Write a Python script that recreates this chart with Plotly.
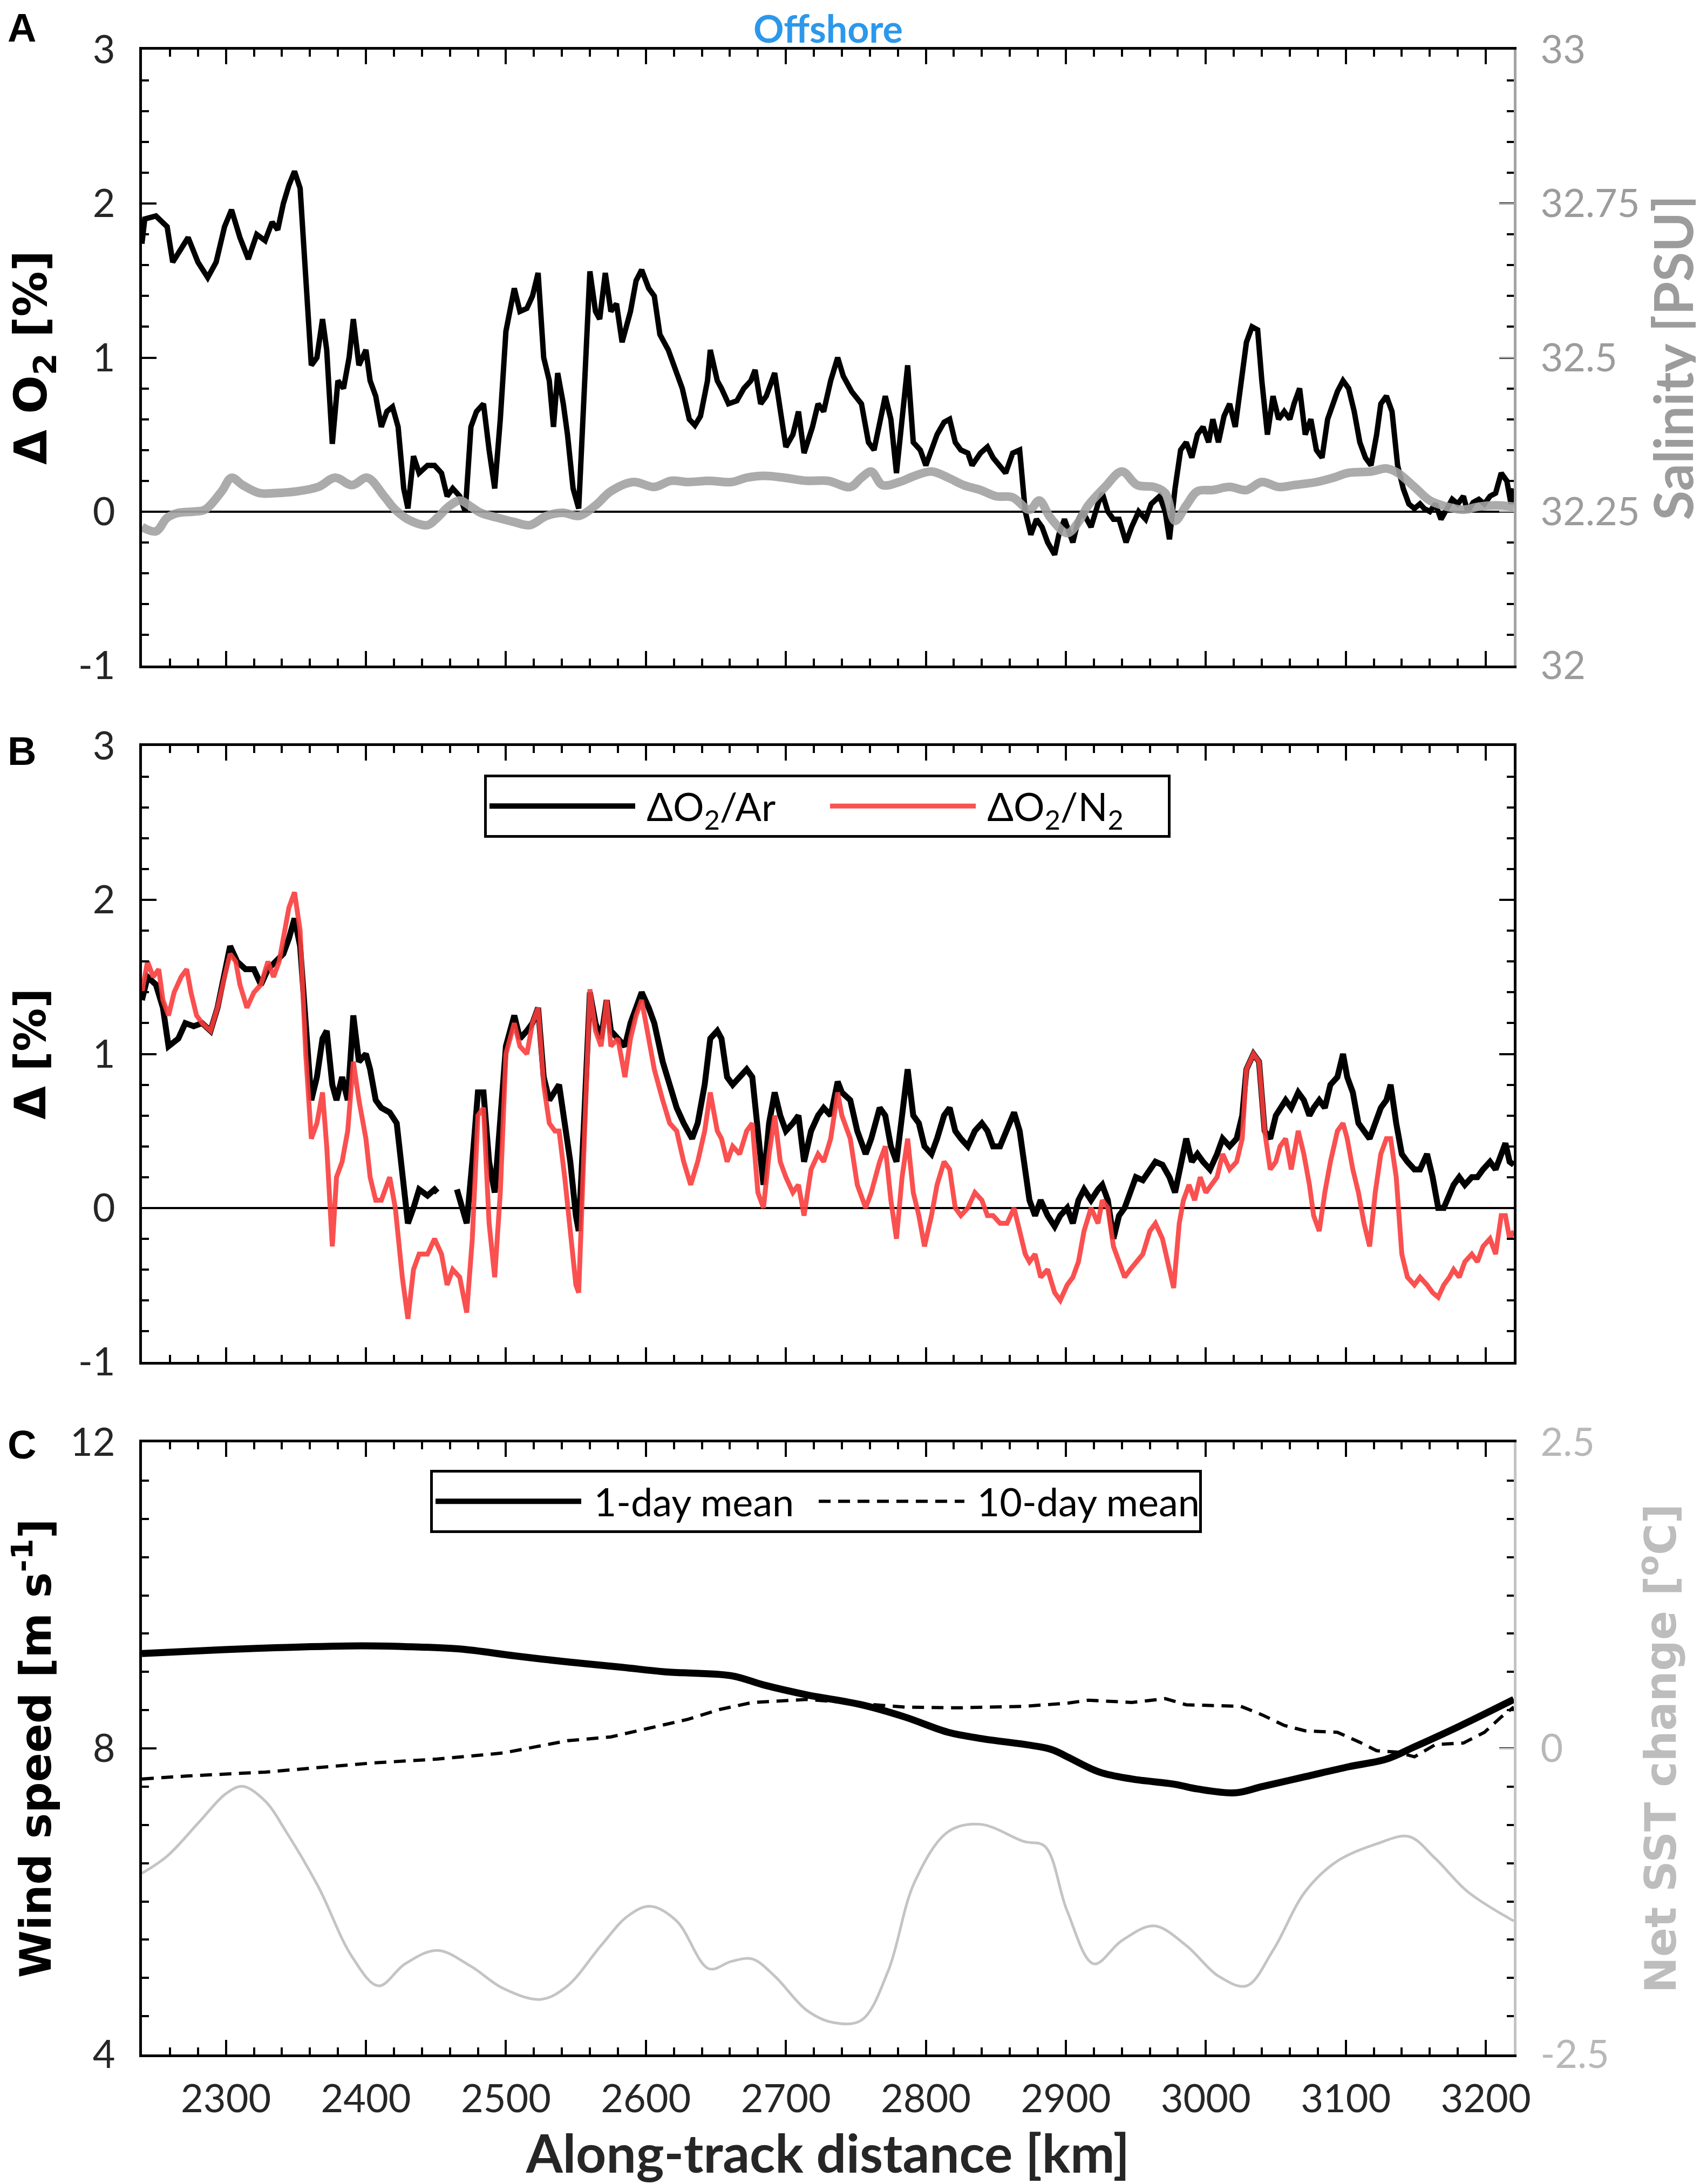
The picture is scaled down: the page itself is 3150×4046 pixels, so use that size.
import plotly.graph_objects as go

# ---------------- Panel A: ΔO2 and salinity ----------------
km_a = [2240, 2242, 2250, 2258, 2262, 2269, 2273, 2280, 2287, 2293, 2299, 2304, 2310, 2316, 2322, 2328, 2333, 2337,
        2341, 2345, 2349, 2353, 2357, 2361, 2365, 2369, 2372, 2376, 2380, 2384, 2388, 2391, 2395, 2400, 2403, 2407,
        2411, 2415, 2419, 2423, 2427, 2430, 2434, 2438, 2444, 2449, 2454, 2458, 2462, 2467, 2471, 2475, 2479, 2484,
        2488, 2492, 2496, 2500, 2506, 2510, 2515, 2519, 2523, 2527, 2531, 2534, 2537, 2541, 2544, 2548, 2552, 2556,
        2560, 2564, 2567, 2571, 2575, 2579, 2583, 2589, 2593, 2597, 2602, 2606, 2610, 2616, 2620, 2626, 2631, 2635,
        2639, 2644, 2646, 2651, 2654, 2659, 2665, 2670, 2675, 2678, 2682, 2686, 2692, 2696, 2700, 2705, 2709, 2713,
        2719, 2723, 2727, 2732, 2737, 2741, 2747, 2754, 2759, 2763, 2768, 2771, 2775, 2779, 2783, 2787, 2791, 2796,
        2800, 2804, 2808, 2813, 2817, 2821, 2825, 2830, 2833, 2839, 2844, 2848, 2853, 2857, 2862, 2867, 2871, 2875,
        2879, 2883, 2887, 2892, 2895, 2899, 2905, 2909, 2912, 2918, 2923, 2926, 2930, 2934, 2938, 2943, 2947, 2952,
        2957, 2961, 2967, 2971, 2974, 2978, 2982, 2986, 2990, 2994, 2998, 3002, 3005, 3009, 3013, 3017, 3021, 3025,
        3029, 3033, 3037, 3040, 3044, 3048, 3052, 3056, 3060, 3063, 3067, 3071, 3075, 3079, 3083, 3087, 3091, 3094,
        3098, 3102, 3106, 3110, 3114, 3118, 3122, 3125, 3129, 3133, 3137, 3141, 3145, 3149, 3153, 3156, 3160, 3164,
        3168, 3172, 3176, 3180, 3184, 3187, 3191, 3195, 3199, 3203, 3207, 3211, 3215, 3218, 3220]
do2_a = [1.74, 1.9, 1.92, 1.85, 1.62, 1.72, 1.78, 1.62, 1.52, 1.62, 1.85, 1.96, 1.78, 1.64, 1.8, 1.76, 1.88, 1.83,
         2.0, 2.12, 2.21, 2.1, 1.5, 0.95, 1.0, 1.25, 1.05, 0.44, 0.85, 0.8, 1.0, 1.25, 0.95, 1.05, 0.85, 0.75,
         0.55, 0.65, 0.68, 0.55, 0.15, 0.02, 0.36, 0.25, 0.3, 0.3, 0.25, 0.1, 0.15, 0.1, 0.0, 0.55, 0.65, 0.7,
         0.4, 0.15, 0.6, 1.17, 1.45, 1.3, 1.32, 1.4, 1.55, 1.0, 0.85, 0.55, 0.9, 0.7, 0.5, 0.15, 0.02, 0.8,
         1.56, 1.3, 1.25, 1.55, 1.3, 1.35, 1.1, 1.3, 1.5, 1.57, 1.45, 1.4, 1.15, 1.05, 0.95, 0.8, 0.6, 0.56,
         0.62, 0.85, 1.05, 0.85, 0.8, 0.7, 0.72, 0.8, 0.85, 0.92, 0.7, 0.75, 0.9, 0.65, 0.42, 0.5, 0.65, 0.38,
         0.55, 0.7, 0.65, 0.85, 1.0, 0.88, 0.78, 0.7, 0.45, 0.4, 0.6, 0.75, 0.6, 0.25, 0.6, 0.95, 0.45, 0.4,
         0.3, 0.4, 0.5, 0.58, 0.6, 0.45, 0.4, 0.38, 0.3, 0.38, 0.42, 0.35, 0.3, 0.25, 0.38, 0.4, 0.0, -0.15,
         -0.05, -0.1, -0.2, -0.28, -0.15, -0.05, -0.2, -0.05, 0.0, -0.1, 0.05, 0.12, 0.0, -0.05, -0.05, -0.2, -0.1, 0.0,
         -0.05, 0.05, 0.1, 0.0, -0.18, 0.15, 0.4, 0.45, 0.35, 0.5, 0.55, 0.45, 0.6, 0.45, 0.62, 0.7, 0.55, 0.85,
         1.1, 1.2, 1.18, 0.85, 0.5, 0.75, 0.6, 0.65, 0.6, 0.7, 0.8, 0.5, 0.6, 0.4, 0.35, 0.6, 0.7, 0.78,
         0.85, 0.8, 0.65, 0.45, 0.35, 0.3, 0.5, 0.7, 0.75, 0.65, 0.3, 0.15, 0.05, 0.02, 0.05, 0.02, 0.0, 0.05,
         -0.05, 0.02, 0.08, 0.05, 0.1, 0.0, 0.06, 0.08, 0.05, 0.1, 0.12, 0.25, 0.2, 0.05, 0.15]

km_sal = [2240, 2250, 2258, 2266, 2277, 2285, 2297, 2304, 2312, 2324, 2335, 2351, 2366, 2378, 2390, 2401, 2413, 2421,
          2432, 2444, 2451, 2459, 2467, 2475, 2482, 2494, 2506, 2517, 2529, 2541, 2552, 2564, 2575, 2591, 2606, 2618,
          2630, 2645, 2661, 2672, 2684, 2699, 2715, 2730, 2746, 2754, 2761, 2769, 2781, 2792, 2804, 2816, 2827, 2839,
          2850, 2862, 2874, 2881, 2889, 2901, 2909, 2916, 2928, 2940, 2951, 2963, 2971, 2978, 2986, 2994, 3005, 3017,
          3029, 3040, 3052, 3063, 3079, 3091, 3102, 3118, 3129, 3137, 3149, 3160, 3172, 3184, 3195, 3207, 3220]
salinity = [32.225, 32.218, 32.24, 32.248, 32.25, 32.253, 32.283, 32.305, 32.293, 32.28, 32.28, 32.283, 32.29, 32.305,
            32.293, 32.305, 32.275, 32.253, 32.235, 32.228, 32.24, 32.258, 32.268, 32.258, 32.248, 32.24, 32.233,
            32.228, 32.243, 32.248, 32.243, 32.26, 32.283, 32.298, 32.29, 32.3, 32.298, 32.3, 32.298, 32.305, 32.308,
            32.305, 32.3, 32.3, 32.29, 32.305, 32.315, 32.293, 32.298, 32.308, 32.315, 32.305, 32.293, 32.285, 32.275,
            32.273, 32.253, 32.268, 32.24, 32.215, 32.233, 32.26, 32.29, 32.315, 32.293, 32.29, 32.28, 32.235, 32.26,
            32.283, 32.285, 32.29, 32.285, 32.298, 32.29, 32.293, 32.298, 32.305, 32.313, 32.315, 32.32, 32.313,
            32.29, 32.268, 32.258, 32.253, 32.258, 32.26, 32.258]

# ---------------- Panel B: ΔO2/Ar and ΔO2/N2 ----------------
km_ar = [2240, 2244, 2250, 2255, 2259, 2266, 2271, 2277, 2283, 2289,
         2294, 2299, 2303, 2308, 2314, 2320, 2325, 2330, 2335, 2341,
         2345, 2349, 2353, 2357, 2361, 2365, 2369, 2372, 2376, 2379,
         2383, 2387, 2391, 2395, 2400, 2403, 2407, 2411, 2417, 2422,
         2426, 2430, 2434, 2438, 2444, 2449, 2451, 2458, 2465, 2469,
         2472, 2476, 2480, 2484, 2488, 2492, 2496, 2500, 2506, 2510,
         2515, 2519, 2523, 2527, 2531, 2535, 2538, 2542, 2546, 2550,
         2552, 2556, 2560, 2564, 2568, 2572, 2575, 2580, 2585, 2589,
         2593, 2597, 2602, 2606, 2612, 2617, 2622, 2627, 2633, 2637,
         2642, 2646, 2651, 2654, 2658, 2662, 2667, 2672, 2676, 2680,
         2684, 2688, 2692, 2696, 2700, 2705, 2709, 2713, 2718, 2723,
         2727, 2732, 2737, 2740, 2746, 2751, 2757, 2761, 2767, 2771,
         2775, 2779, 2783, 2787, 2791, 2795, 2799, 2804, 2808, 2813,
         2817, 2821, 2825, 2830, 2835, 2840, 2844, 2848, 2853, 2858,
         2863, 2867, 2871, 2874, 2878, 2882, 2887, 2892, 2896, 2901,
         2905, 2909, 2913, 2918, 2923, 2926, 2930, 2934, 2938, 2942,
         2946, 2950, 2955, 2960, 2964, 2969, 2974, 2978, 2982, 2986,
         2990, 2994, 2998, 3003, 3008, 3012, 3017, 3022, 3026, 3029,
         3034, 3038, 3042, 3046, 3050, 3053, 3057, 3061, 3066, 3070,
         3074, 3077, 3081, 3085, 3089, 3094, 3098, 3101, 3105, 3109,
         3113, 3117, 3121, 3125, 3129, 3132, 3136, 3140, 3144, 3149,
         3153, 3158, 3162, 3166, 3170, 3174, 3177, 3181, 3185, 3190,
         3194, 3198, 3203, 3207, 3211, 3214, 3217, 3220]
do2_ar = [1.35, 1.5, 1.45, 1.3, 1.05, 1.1, 1.2, 1.18, 1.2, 1.15,
          1.3, 1.5, 1.7, 1.6, 1.55, 1.55, 1.45, 1.55, 1.6, 1.65,
          1.75, 1.88, 1.7, 1.2, 0.7, 0.85, 1.1, 1.15, 0.8, 0.7,
          0.85, 0.7, 1.25, 0.95, 1.0, 0.9, 0.7, 0.65, 0.62, 0.55,
          0.2, -0.1, 0.0, 0.12, 0.08, 0.12, 0.1, None, 0.12, 0.0,
          -0.1, 0.3, 0.75, 0.75, 0.3, 0.1, 0.6, 1.05, 1.25, 1.1,
          1.15, 1.2, 1.3, 0.85, 0.7, 0.75, 0.8, 0.55, 0.3, -0.05,
          -0.15, 0.6, 1.4, 1.2, 1.1, 1.35, 1.15, 1.1, 1.05, 1.2,
          1.3, 1.4, 1.3, 1.2, 0.95, 0.8, 0.65, 0.55, 0.45, 0.55,
          0.8, 1.1, 1.15, 1.1, 0.85, 0.8, 0.85, 0.9, 0.85, 0.45,
          0.15, 0.55, 0.75, 0.6, 0.5, 0.55, 0.6, 0.3, 0.5, 0.6,
          0.65, 0.6, 0.82, 0.75, 0.7, 0.5, 0.35, 0.45, 0.65, 0.6,
          0.4, 0.3, 0.6, 0.9, 0.6, 0.55, 0.4, 0.35, 0.45, 0.6,
          0.65, 0.5, 0.45, 0.4, 0.5, 0.55, 0.5, 0.4, 0.4, 0.5,
          0.62, 0.5, 0.2, 0.05, -0.05, 0.05, -0.05, -0.12, -0.05, 0.0,
          -0.1, 0.05, 0.12, 0.05, 0.12, 0.15, 0.05, -0.2, -0.05, 0.0,
          0.1, 0.2, 0.18, 0.25, 0.3, 0.28, 0.2, 0.1, 0.3, 0.45,
          0.3, 0.35, 0.3, 0.25, 0.35, 0.45, 0.4, 0.45, 0.6, 0.9,
          1.0, 0.95, 0.5, 0.45, 0.6, 0.65, 0.7, 0.65, 0.75, 0.7,
          0.6, 0.65, 0.7, 0.65, 0.8, 0.85, 1.0, 0.85, 0.75, 0.55,
          0.5, 0.45, 0.55, 0.65, 0.7, 0.8, 0.55, 0.35, 0.3, 0.25,
          0.25, 0.35, 0.2, 0.0, 0.0, 0.1, 0.15, 0.2, 0.15, 0.2,
          0.2, 0.25, 0.3, 0.25, 0.35, 0.42, 0.3, 0.28]

km_n2 = [2240, 2244, 2248, 2252, 2255, 2259, 2263, 2268, 2272, 2275,
         2279, 2283, 2289, 2294, 2299, 2303, 2307, 2310, 2315, 2320,
         2325, 2330, 2334, 2338, 2341, 2345, 2349, 2353, 2357, 2361,
         2365, 2369, 2372, 2376, 2379, 2383, 2387, 2391, 2395, 2400,
         2403, 2407, 2411, 2417, 2421, 2426, 2430, 2434, 2438, 2444,
         2449, 2454, 2458, 2462, 2467, 2472, 2476, 2480, 2484, 2488,
         2492, 2496, 2500, 2506, 2510, 2515, 2519, 2523, 2527, 2531,
         2535, 2538, 2542, 2546, 2550, 2552, 2556, 2560, 2564, 2568,
         2572, 2575, 2580, 2585, 2589, 2593, 2597, 2602, 2606, 2612,
         2617, 2622, 2627, 2632, 2637, 2642, 2646, 2651, 2654, 2658,
         2662, 2667, 2672, 2676, 2680, 2684, 2688, 2692, 2696, 2700,
         2705, 2709, 2713, 2718, 2723, 2727, 2732, 2737, 2740, 2746,
         2751, 2757, 2761, 2767, 2771, 2775, 2779, 2783, 2787, 2791,
         2795, 2799, 2804, 2808, 2813, 2817, 2821, 2825, 2830, 2835,
         2840, 2844, 2848, 2853, 2858, 2863, 2867, 2871, 2874, 2878,
         2882, 2887, 2892, 2896, 2901, 2905, 2909, 2913, 2918, 2923,
         2926, 2930, 2934, 2938, 2942, 2946, 2950, 2955, 2960, 2964,
         2969, 2974, 2977, 2981, 2984, 2988, 2992, 2996, 3000, 3004,
         3008, 3012, 3017, 3022, 3026, 3029, 3034, 3038, 3042, 3046,
         3050, 3053, 3057, 3061, 3066, 3070, 3074, 3077, 3081, 3085,
         3089, 3094, 3098, 3101, 3105, 3109, 3113, 3117, 3121, 3125,
         3129, 3132, 3136, 3140, 3144, 3149, 3153, 3158, 3162, 3166,
         3170, 3174, 3177, 3181, 3185, 3190, 3194, 3198, 3203, 3207,
         3211, 3214, 3217, 3220]
do2_n2 = [1.4, 1.6, 1.5, 1.55, 1.35, 1.25, 1.4, 1.5, 1.55, 1.4,
          1.25, 1.2, 1.15, 1.3, 1.5, 1.65, 1.6, 1.45, 1.3, 1.4,
          1.45, 1.6, 1.5, 1.6, 1.75, 1.95, 2.05, 1.8, 1.0, 0.45,
          0.55, 0.75, 0.4, -0.25, 0.2, 0.3, 0.5, 0.95, 0.7, 0.45,
          0.2, 0.05, 0.05, 0.2, 0.0, -0.45, -0.72, -0.4, -0.3, -0.3,
          -0.2, -0.3, -0.5, -0.4, -0.45, -0.68, -0.2, 0.6, 0.65, -0.1,
          -0.45, 0.1, 1.0, 1.2, 1.05, 1.0, 1.2, 1.3, 0.8, 0.55,
          0.5, 0.5, 0.2, -0.15, -0.5, -0.55, 0.5, 1.42, 1.15, 1.05,
          1.35, 1.05, 1.1, 0.85, 1.1, 1.25, 1.35, 1.1, 0.9, 0.7,
          0.55, 0.5, 0.3, 0.15, 0.3, 0.5, 0.75, 0.5, 0.45, 0.3,
          0.4, 0.35, 0.5, 0.55, 0.1, 0.0, 0.35, 0.6, 0.3, 0.2,
          0.1, 0.15, -0.05, 0.25, 0.35, 0.3, 0.45, 0.75, 0.6, 0.45,
          0.15, 0.0, 0.1, 0.3, 0.4, 0.05, -0.2, 0.2, 0.45, 0.1,
          -0.05, -0.25, -0.05, 0.15, 0.3, 0.25, 0.0, -0.05, 0.0, 0.1,
          0.05, -0.05, -0.05, -0.1, -0.1, 0.0, -0.15, -0.3, -0.35, -0.3,
          -0.45, -0.4, -0.55, -0.6, -0.5, -0.45, -0.35, -0.15, 0.0, -0.1,
          0.05, 0.0, -0.25, -0.35, -0.45, -0.4, -0.35, -0.3, -0.15, -0.1,
          -0.2, -0.4, -0.52, -0.1, 0.05, 0.15, 0.05, 0.2, 0.1, 0.15,
          0.2, 0.35, 0.25, 0.3, 0.45, 0.9, 1.0, 0.95, 0.5, 0.25,
          0.3, 0.4, 0.45, 0.25, 0.5, 0.35, 0.15, -0.05, -0.15, 0.1,
          0.3, 0.5, 0.55, 0.45, 0.25, 0.1, -0.1, -0.25, 0.1, 0.35,
          0.45, 0.45, 0.2, -0.3, -0.45, -0.5, -0.45, -0.5, -0.55, -0.58,
          -0.5, -0.45, -0.4, -0.45, -0.35, -0.3, -0.35, -0.25, -0.2, -0.3,
          -0.05, -0.05, -0.2, -0.15]

# ---------------- Panel C: wind speed and SST change ----------------
km_wind1 = [2240, 2297, 2343, 2397, 2428, 2467, 2506, 2544, 2583, 2614, 2661, 2684, 2715, 2754, 2785, 2816,
            2839, 2889, 2901, 2924, 2947, 2978, 2994, 3021, 3040, 3071, 3102, 3129, 3149, 3180, 3220]
wind_1day = [9.24, 9.29, 9.32, 9.34, 9.33, 9.30, 9.21, 9.13, 9.06, 9.0, 8.95, 8.83, 8.70, 8.57, 8.41, 8.21,
             8.13, 7.99, 7.89, 7.69, 7.60, 7.53, 7.47, 7.42, 7.50, 7.63, 7.76, 7.86, 8.02, 8.28, 8.64]
km_wind10 = [2240, 2273, 2328, 2374, 2405, 2451, 2482, 2498, 2521, 2544, 2575, 2599, 2630, 2653, 2676, 2715,
             2746, 2785, 2823, 2870, 2901, 2916, 2947, 2971, 2986, 3025, 3040, 3056, 3071, 3094, 3110, 3122,
             3137, 3149, 3164, 3184, 3199, 3211, 3220]
wind_10day = [7.60, 7.64, 7.69, 7.76, 7.81, 7.86, 7.91, 7.94, 8.02, 8.10, 8.15, 8.25, 8.38, 8.51, 8.60, 8.64,
              8.60, 8.54, 8.53, 8.55, 8.59, 8.63, 8.60, 8.65, 8.57, 8.55, 8.44, 8.30, 8.23, 8.21, 8.08, 7.97,
              7.95, 7.89, 8.05, 8.07, 8.21, 8.41, 8.54]
km_sst = [2240, 2258, 2281, 2300, 2312, 2328, 2343, 2366, 2390, 2409, 2428, 2451, 2475, 2498, 2525, 2544,
          2568, 2587, 2603, 2622, 2645, 2661, 2676, 2692, 2715, 2734, 2754, 2773, 2792, 2816, 2839, 2870,
          2885, 2901, 2920, 2940, 2963, 2986, 3009, 3029, 3048, 3071, 3094, 3122, 3145, 3164, 3187, 3220]
sst_change = [-1.02, -0.88, -0.60, -0.37, -0.31, -0.43, -0.68, -1.13, -1.70, -1.94, -1.76, -1.65, -1.78, -1.96,
              -2.05, -1.94, -1.61, -1.37, -1.29, -1.41, -1.80, -1.74, -1.72, -1.86, -2.14, -2.24, -2.22, -1.82,
              -1.09, -0.68, -0.62, -0.76, -0.80, -1.33, -1.76, -1.57, -1.45, -1.61, -1.86, -1.94, -1.65, -1.17,
              -0.92, -0.78, -0.72, -0.90, -1.17, -1.41]

# ---------------- tick labels ----------------
x_range = [2240, 3220]
x_tickvals = [2300, 2400, 2500, 2600, 2700, 2800, 2900, 3000, 3100, 3200]
do2_tickvals = [-1, 0, 1, 2, 3]
do2_ticktext = ["-1", "0", "1", "2", "3"]
sal_tickvals = [32, 32.25, 32.5, 32.75, 33]
sal_ticktext = ["32", "32.25", "32.5", "32.75", "33"]
wind_tickvals = [4, 8, 12]
wind_ticktext = ["4", "8", "12"]
sst_tickvals = [-2.5, 0, 2.5]
sst_ticktext = ["-2.5", "0", "2.5"]

assert len(km_a) == len(do2_a)
assert len(km_sal) == len(salinity)
assert len(km_ar) == len(do2_ar)
assert len(km_n2) == len(do2_n2)
assert len(km_wind1) == len(wind_1day)
assert len(km_wind10) == len(wind_10day)
assert len(km_sst) == len(sst_change)

# ---------------- figure ----------------
W, H = 3150, 4046
X0, X1 = 255 / W, 2797 / W
def ydom(top_px, bot_px):
    return [1 - bot_px / H, 1 - top_px / H]

DOM_A = ydom(84, 1225)
DOM_B = ydom(1374, 2515)
DOM_C = ydom(2664, 3798)

TXT = "#262626"
GRAY_SAL = "#a3a3a3"
GRAY_SST = "#c4c4c4"
TICKFONT = dict(family="Lato", size=72, color=TXT)
NB = "\u00a0"

fig = go.Figure()
fig.add_trace(go.Scatter(x=km_a, y=do2_a, xaxis="x", yaxis="y", mode="lines",
                         line=dict(color="black", width=10), showlegend=False))
fig.add_trace(go.Scatter(x=km_sal, y=salinity, xaxis="x", yaxis="y2", mode="lines",
                         line=dict(color=GRAY_SAL, width=16, shape="spline"), opacity=0.9, showlegend=False))
fig.add_trace(go.Scatter(x=km_ar, y=do2_ar, xaxis="x2", yaxis="y3", mode="lines", name=NB + "ΔO<sub>2</sub>/Ar",
                         line=dict(color="black", width=11), connectgaps=False, legend="legend"))
fig.add_trace(go.Scatter(x=km_n2, y=do2_n2, xaxis="x2", yaxis="y3", mode="lines",
                         name=NB + "ΔO<sub>2</sub>/N<sub>2</sub>",
                         line=dict(color="rgb(250,62,62)", width=9), opacity=0.9, legend="legend"))
fig.add_trace(go.Scatter(x=km_wind1, y=wind_1day, xaxis="x3", yaxis="y4", mode="lines", name=NB + "1-day mean",
                         line=dict(color="black", width=13, shape="spline"), legend="legend2"))
fig.add_trace(go.Scatter(x=km_wind10, y=wind_10day, xaxis="x3", yaxis="y4", mode="lines", name=NB + "10-day mean",
                         line=dict(color="black", width=6, dash="22px,14px"), legend="legend2"))
fig.add_trace(go.Scatter(x=km_sst, y=sst_change, xaxis="x3", yaxis="y5", mode="lines",
                         line=dict(color=GRAY_SST, width=5, shape="spline"), showlegend=False))

def xaxis(anchor, labels, title=None):
    d = dict(domain=[X0, X1], anchor=anchor, range=x_range, tickmode="array", tickvals=x_tickvals,
             ticks="inside", ticklen=27, tickwidth=4, tickcolor="black",
             showline=True, linewidth=5, linecolor="black", mirror="ticks",
             showgrid=False, zeroline=False, showticklabels=labels, tickfont=TICKFONT,
             ticklabelstandoff=16, automargin=False,
             minor=dict(dtick=20, tick0=2240, ticks="inside", ticklen=13, tickwidth=4,
                        tickcolor="black", showgrid=False))
    if title:
        d["title"] = dict(text=title, font=dict(family="Lato", size=98, color=TXT, weight="bold"), standoff=22)
    return d

def yleft(domain, anchor, rng, tv, tt, minor_dt, title, tsize, zero):
    return dict(domain=domain, anchor=anchor, range=rng, tickmode="array", tickvals=tv, ticktext=tt,
                ticks="inside", ticklen=27, tickwidth=4, tickcolor="black",
                showline=True, linewidth=5, linecolor="black", mirror="ticks",
                showgrid=False, zeroline=zero, zerolinecolor="black", zerolinewidth=4,
                tickfont=TICKFONT, ticklabelstandoff=30, automargin=False,
                minor=dict(dtick=minor_dt, tick0=rng[0], ticks="inside", ticklen=13, tickwidth=4,
                           tickcolor="black", showgrid=False),
                title=dict(text=title, font=dict(family="DejaVu Sans", size=tsize, color="black", weight="bold"),
                           standoff=36))

def yright(overlay, anchor, rng, tv, tt, color, linecolor, title, titlefont, standoff):
    return dict(overlaying=overlay, anchor=anchor, side="right", range=rng, tickmode="array",
                tickvals=tv, ticktext=tt, ticks="inside", ticklen=27, tickwidth=3, tickcolor=linecolor,
                showline=True, linewidth=5, linecolor=linecolor, showgrid=False, zeroline=False,
                tickfont=dict(family="Lato", size=72, color=color), ticklabelstandoff=30, automargin=False,
                title=dict(text=title, font=titlefont, standoff=standoff))

ya2 = yright("y", "x", [32, 33], sal_tickvals, sal_ticktext, "#9c9c9c", GRAY_SAL, "Salinity [PSU]",
             dict(family="Lato", size=100, color="#9c9c9c", weight="bold"), 45)
ya5 = yright("y4", "x3", [-2.5, 2.5], sst_tickvals, sst_ticktext, "#b8b8b8", GRAY_SST,
             "Net SST change [<sup>o</sup>C]", dict(family="DejaVu Sans", size=80, color="#bdbdbd", weight="bold"), 70)

legend_common = dict(orientation="h", bgcolor="white", bordercolor="black", borderwidth=5,
                     font=dict(family="Lato", size=72, color="black"), xanchor="left", yanchor="top",
                     itemwidth=270, itemclick=False, itemdoubleclick=False, entrywidthmode="pixels")

fig.update_layout(
    width=W, height=H, autosize=False,
    margin=dict(l=0, r=0, t=0, b=0, autoexpand=False),
    paper_bgcolor="white", plot_bgcolor="white",
    xaxis=xaxis("y", False),
    xaxis2=xaxis("y3", False),
    xaxis3=xaxis("y4", True, "Along-track distance [km]"),
    yaxis=yleft(DOM_A, "x", [-1, 3], do2_tickvals, do2_ticktext, 0.2, "Δ O<sub>2</sub> [%]", 84, True),
    yaxis2=ya2,
    yaxis3=yleft(DOM_B, "x2", [-1, 3], do2_tickvals, do2_ticktext, 0.2, "Δ [%]", 80, True),
    yaxis4=yleft(DOM_C, "x3", [4, 12], wind_tickvals, wind_ticktext, 0.5,
                 "Wind speed [m s<sup>-1</sup>]", 80, False),
    yaxis5=ya5,
    legend=dict(legend_common, x=889 / W, y=1 - 1427 / H, entrywidth=346),
    legend2=dict(legend_common, x=789 / W, y=1 - 2715 / H, entrywidth=425),
    annotations=[
        dict(text="Offshore", x=1526 / W, y=1.0, xref="paper", yref="paper", showarrow=False,
             xanchor="center", yanchor="top", font=dict(family="Lato", size=70, color="#2b98eb", weight="bold")),
        dict(text="A", x=4 / W, y=1.0, xref="paper", yref="paper", showarrow=False,
             xanchor="left", yanchor="top", font=dict(family="Liberation Sans", size=74, color="black", weight="bold")),
        dict(text="B", x=4 / W, y=1 - 1383 / H, xref="paper", yref="paper", showarrow=False,
             xanchor="left", yanchor="middle", font=dict(family="Liberation Sans", size=74, color="black", weight="bold")),
        dict(text="C", x=4 / W, y=1 - 2668 / H, xref="paper", yref="paper", showarrow=False,
             xanchor="left", yanchor="middle", font=dict(family="Liberation Sans", size=74, color="black", weight="bold")),
    ],
)

fig.write_html("out.html")
